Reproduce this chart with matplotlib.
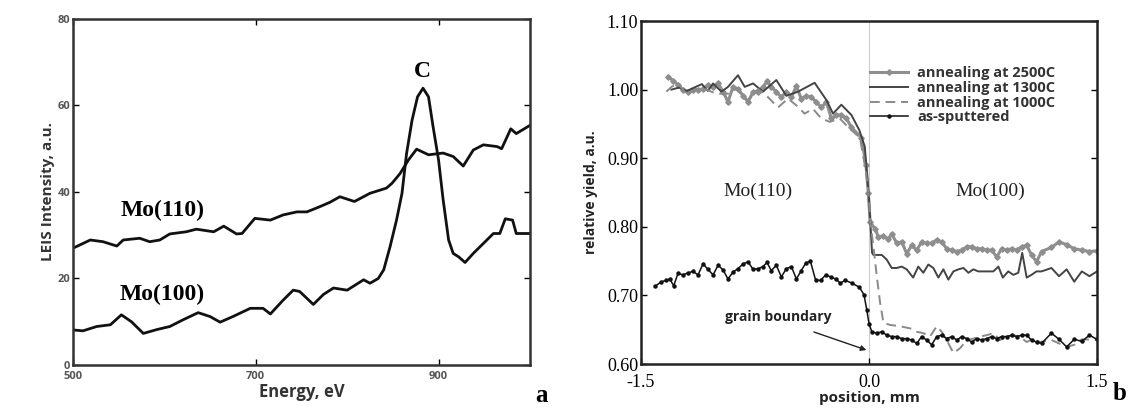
import matplotlib
matplotlib.use('Agg')
import matplotlib.pyplot as plt
import numpy as np

# ── Panel a: LEIS spectra ────────────────────────────────────────────────────

E_110 = [500, 519, 533, 548, 555, 573, 584, 595, 606, 624, 635, 654, 665, 679,
         685, 699, 716, 730, 745, 756, 770, 781, 792, 808, 825, 843, 849, 858,
         867, 876, 889, 905, 916, 927, 938, 949, 964, 969, 979, 985, 1000]
I_110 = [27.0, 28.9, 28.5, 27.5, 28.9, 29.3, 28.5, 28.9, 30.3, 30.8, 31.4, 30.8,
         32.1, 30.3, 30.4, 33.9, 33.5, 34.7, 35.4, 35.4, 36.6, 37.6, 38.9, 37.8,
         39.7, 40.9, 42.0, 44.3, 47.4, 49.9, 48.6, 49.0, 48.2, 46.0, 49.7, 50.9,
         50.5, 50.0, 54.6, 53.5, 55.4]

E_100 = [500, 511, 526, 541, 553, 564, 577, 592, 606, 620, 637, 650, 661, 675,
         694, 708, 716, 730, 741, 748, 763, 774, 785, 800, 818, 825, 834, 840,
         847, 854, 860, 865, 871, 877, 883, 889, 894, 900, 905, 911, 916, 922,
         929, 938, 949, 960, 967, 973, 981, 985, 1000]
I_100 = [8.1, 7.9, 8.9, 9.3, 11.6, 10.0, 7.3, 8.2, 8.9, 10.4, 12.1, 11.2, 9.9,
         11.2, 13.1, 13.1, 11.8, 15.0, 17.3, 17.0, 14.0, 16.3, 17.8, 17.3, 19.7,
         18.9, 20.0, 22.0, 27.4, 33.5, 39.7, 48.9, 56.6, 62.0, 64.0, 62.0, 55.1,
         47.4, 38.2, 28.9, 25.8, 25.0, 23.7, 25.8, 28.1, 30.4, 30.4, 33.8, 33.5,
         30.4, 30.4]

# ── Panel b: line scans across the grain boundary ────────────────────────────

X_2500 = [-1.322, -1.289, -1.257, -1.224, -1.19, -1.158, -1.125, -1.092, -1.06,
          -1.026, -0.993, -0.96, -0.928, -0.895, -0.862, -0.829, -0.796, -0.763,
          -0.73, -0.698, -0.671, -0.643, -0.61, -0.577, -0.544, -0.511, -0.478,
          -0.446, -0.413, -0.38, -0.347, -0.314, -0.281, -0.248, -0.215, -0.182,
          -0.149, -0.116, -0.05, -0.02, -0.005, 0.007, 0.04, 0.062, 0.095, 0.128,
          0.149, 0.182, 0.215, 0.248, 0.281, 0.314, 0.346, 0.379, 0.412, 0.445,
          0.478, 0.511, 0.544, 0.577, 0.61, 0.643, 0.675, 0.708, 0.741, 0.774,
          0.807, 0.84, 0.872, 0.905, 0.938, 0.971, 1.004, 1.037, 1.069, 1.102,
          1.135, 1.2, 1.25, 1.3, 1.35, 1.4, 1.45, 1.5]
Y_2500 = [1.019, 1.013, 1.007, 1.0, 0.997, 1.0, 1.0, 1.001, 1.007, 1.004, 1.009,
          0.997, 0.982, 1.004, 1.001, 0.991, 0.982, 0.997, 0.997, 1.004, 1.012,
          1.004, 0.997, 0.989, 0.997, 0.989, 1.005, 0.987, 0.991, 0.989, 0.982,
          0.974, 0.982, 0.958, 0.963, 0.963, 0.958, 0.945, 0.93, 0.89, 0.85,
          0.807, 0.797, 0.785, 0.787, 0.782, 0.79, 0.776, 0.778, 0.761, 0.773,
          0.766, 0.778, 0.776, 0.776, 0.781, 0.778, 0.768, 0.766, 0.764, 0.766,
          0.771, 0.771, 0.768, 0.768, 0.766, 0.766, 0.756, 0.768, 0.766, 0.768,
          0.766, 0.771, 0.773, 0.759, 0.749, 0.764, 0.77, 0.778, 0.774, 0.768,
          0.766, 0.764, 0.765]

X_1300 = [-1.30, -1.25, -1.2, -1.15, -1.1, -1.06, -1.026, -0.971, -0.928, -0.862,
          -0.818, -0.763, -0.698, -0.61, -0.544, -0.467, -0.358, -0.281, -0.237,
          -0.182, -0.116, -0.064, -0.028, 0.0, 0.02, 0.029, 0.084, 0.117, 0.149,
          0.182, 0.215, 0.248, 0.29, 0.324, 0.357, 0.39, 0.423, 0.456, 0.489,
          0.522, 0.555, 0.588, 0.621, 0.654, 0.686, 0.719, 0.818, 0.851, 0.88,
          0.916, 0.949, 0.982, 1.008, 1.037, 1.069, 1.102, 1.135, 1.2, 1.25, 1.3,
          1.35, 1.4, 1.45, 1.5]
Y_1300 = [1.0, 1.003, 0.998, 1.003, 1.008, 0.998, 1.009, 0.997, 1.004, 1.021,
          1.004, 1.009, 0.997, 1.014, 0.991, 0.997, 1.010, 0.985, 0.965, 0.978,
          0.963, 0.941, 0.917, 0.84, 0.762, 0.759, 0.759, 0.752, 0.74, 0.74,
          0.742, 0.738, 0.726, 0.742, 0.733, 0.745, 0.74, 0.726, 0.738, 0.723,
          0.735, 0.738, 0.74, 0.733, 0.738, 0.735, 0.735, 0.742, 0.726, 0.735,
          0.73, 0.733, 0.762, 0.726, 0.73, 0.735, 0.735, 0.74, 0.728, 0.738,
          0.72, 0.735, 0.728, 0.735]

X_1000 = [-1.333, -1.3, -1.257, -1.202, -1.136, -1.081, -1.004, -0.928, -0.873,
          -0.796, -0.73, -0.665, -0.599, -0.533, -0.478, -0.424, -0.369, -0.314,
          -0.259, -0.193, -0.127, -0.06, -0.02, 0.0, 0.007, 0.029, 0.051, 0.073,
          0.095, 0.138, 0.204, 0.27, 0.314, 0.357, 0.401, 0.445, 0.478, 0.511,
          0.555, 0.599, 0.643, 0.686, 0.73, 0.774, 0.818, 0.862, 0.905, 0.949,
          0.993, 1.037, 1.08, 1.124, 1.2, 1.3, 1.35, 1.4, 1.5]
Y_1000 = [0.997, 1.004, 1.009, 0.994, 1.0, 1.001, 0.994, 0.994, 1.001, 0.984,
          1.001, 0.989, 0.974, 0.987, 0.977, 0.965, 0.972, 0.958, 0.953, 0.958,
          0.943, 0.93, 0.88, 0.84, 0.81, 0.771, 0.728, 0.689, 0.66, 0.657, 0.655,
          0.652, 0.647, 0.645, 0.64, 0.655, 0.647, 0.635, 0.616, 0.623, 0.635,
          0.637, 0.64, 0.642, 0.645, 0.635, 0.64, 0.642, 0.64, 0.632, 0.637,
          0.632, 0.635, 0.625, 0.628, 0.636, 0.635]

X_AS = [-1.41, -1.366, -1.333, -1.311, -1.285, -1.257, -1.224, -1.19, -1.158,
        -1.125, -1.092, -1.06, -1.026, -0.993, -0.96, -0.928, -0.895, -0.862,
        -0.829, -0.796, -0.763, -0.73, -0.698, -0.671, -0.643, -0.61, -0.577,
        -0.544, -0.511, -0.478, -0.446, -0.417, -0.386, -0.351, -0.318, -0.285,
        -0.253, -0.22, -0.189, -0.156, -0.114, -0.064, -0.033, -0.015, 0.0,
        0.018, 0.051, 0.084, 0.117, 0.149, 0.182, 0.215, 0.248, 0.281, 0.314,
        0.346, 0.379, 0.412, 0.445, 0.478, 0.511, 0.544, 0.577, 0.61, 0.643,
        0.675, 0.708, 0.741, 0.774, 0.807, 0.84, 0.872, 0.905, 0.938, 0.971,
        1.004, 1.037, 1.069, 1.102, 1.135, 1.2, 1.25, 1.3, 1.35, 1.4, 1.45, 1.5]
Y_AS = [0.713, 0.72, 0.722, 0.724, 0.714, 0.732, 0.73, 0.733, 0.735, 0.73, 0.746,
        0.738, 0.73, 0.744, 0.737, 0.724, 0.734, 0.739, 0.746, 0.749, 0.738,
        0.739, 0.742, 0.748, 0.736, 0.744, 0.727, 0.739, 0.742, 0.724, 0.736,
        0.747, 0.75, 0.722, 0.722, 0.73, 0.727, 0.724, 0.718, 0.722, 0.718,
        0.712, 0.701, 0.679, 0.659, 0.647, 0.645, 0.647, 0.642, 0.64, 0.64,
        0.637, 0.637, 0.635, 0.63, 0.64, 0.635, 0.628, 0.64, 0.642, 0.637,
        0.64, 0.635, 0.64, 0.637, 0.632, 0.637, 0.635, 0.637, 0.64, 0.637,
        0.64, 0.64, 0.642, 0.64, 0.642, 0.642, 0.635, 0.632, 0.63, 0.645,
        0.636, 0.625, 0.636, 0.633, 0.642, 0.636]

SANS = 'Open Sans'
SERIF = 'Liberation Serif'

fig = plt.figure(figsize=(11.38, 4.09), dpi=100, facecolor='white')

# ── panel a ──
ax1 = fig.add_axes([0.0641, 0.1076, 0.4016, 0.846])
ax1.plot(E_110, I_110, color='#111111', lw=2.0)
ax1.plot(E_100, I_100, color='#111111', lw=2.0)
ax1.set_xlim(500, 1000)
ax1.set_ylim(0, 80)
ax1.set_xticks([500, 700, 900])
ax1.set_yticks([0, 20, 40, 60, 80])
ax1.tick_params(direction='in', top=True, right=True, length=4, width=1,
                labelsize=8, labelcolor='#555555', pad=2)
ax1.tick_params(axis='x', pad=4)
for lab in ax1.get_xticklabels() + ax1.get_yticklabels():
    lab.set_fontweight('bold')
    lab.set_family(SANS)
for sp in ax1.spines.values():
    sp.set_linewidth(1.8)
    sp.set_color('#333333')
ax1.set_xlabel('Energy, eV', fontsize=12, fontweight='bold', family=SANS,
               color='#333333', labelpad=1)
ax1.set_ylabel('LEIS Intensity, a.u.', fontsize=11, fontweight='bold', family=SANS,
               color='#333333', labelpad=2)
ax1.text(598, 35.8, 'Mo(110)', fontsize=17, fontweight='bold', family=SERIF,
         ha='center', va='center')
ax1.text(598, 16.2, 'Mo(100)', fontsize=17, fontweight='bold', family=SERIF,
         ha='center', va='center')
ax1.text(882, 67.8, 'C', fontsize=17, fontweight='bold', family=SERIF,
         ha='center', va='center')

# ── panel b ──
ax2 = fig.add_axes([0.5633, 0.110, 0.4007, 0.8386])
ax2.axvline(0, color='#cccccc', lw=0.8, zorder=0)
ax2.plot(X_2500, Y_2500, color='#8e8e8e', lw=2.2, marker='D', ms=2.8,
         label='annealing at 2500C')
ax2.plot(X_1300, Y_1300, color='#444444', lw=1.4, label='annealing at 1300C')
ax2.plot(X_1000, Y_1000, color='#8a8a8a', lw=1.4, ls=(0, (5, 3)),
         label='annealing at 1000C')
ax2.plot(X_AS, Y_AS, color='#111111', lw=1.1, marker='o', ms=2.2,
         label='as-sputtered')
ax2.set_xlim(-1.5, 1.5)
ax2.set_ylim(0.60, 1.10)
ax2.set_xticks([-1.5, 0.0, 1.5])
ax2.set_xticklabels(['-1.5', '0.0', '1.5'])
ax2.set_yticks([0.6, 0.7, 0.8, 0.9, 1.0, 1.1])
ax2.set_yticklabels(['0.60', '0.70', '0.80', '0.90', '1.00', '1.10'])
ax2.tick_params(direction='in', right=True, length=4, width=1, labelsize=13,
                pad=2)
ax2.tick_params(axis='x', pad=7)
for lab in ax2.get_xticklabels() + ax2.get_yticklabels():
    lab.set_family(SERIF)
for sp in ax2.spines.values():
    sp.set_linewidth(1.8)
    sp.set_color('#222222')
ax2.set_xlabel('position, mm', fontsize=11, fontweight='bold', family=SANS,
               color='#222222', labelpad=0)
ax2.set_ylabel('relative yield, a.u.', fontsize=10, fontweight='bold', family=SANS,
               color='#222222', labelpad=6)
ax2.text(-0.73, 0.852, 'Mo(110)', fontsize=14, family=SERIF,
         ha='center', va='center', color='#222222')
ax2.text(0.80, 0.852, 'Mo(100)', fontsize=14, family=SERIF,
         ha='center', va='center', color='#222222')
ax2.text(-0.6, 0.668, 'grain boundary', fontsize=10, fontweight='bold',
         family=SANS, ha='center', va='center', color='#222222')
ax2.annotate('', xy=(0.0, 0.619), xytext=(-0.38, 0.648),
             arrowprops=dict(arrowstyle='-|>', color='#222222', lw=1.0,
                             mutation_scale=8))
leg = ax2.legend(loc='upper left', bbox_to_anchor=(0.49, 0.885), frameon=False,
                 handlelength=2.6, handletextpad=0.6, labelspacing=0.05,
                 borderaxespad=0,
                 prop={'family': SANS, 'weight': 'bold', 'size': 10.5})
for t in leg.get_texts():
    t.set_color('#333333')

fig.text(542 / 1138, 1 - 396 / 409, 'a', fontsize=18, fontweight='bold',
         family=SERIF, ha='center', va='center')
fig.text(1120 / 1138, 1 - 394 / 409, 'b', fontsize=18, fontweight='bold',
         family=SERIF, ha='center', va='center')

plt.savefig('out.png', dpi=100, facecolor='white')
plt.close()
